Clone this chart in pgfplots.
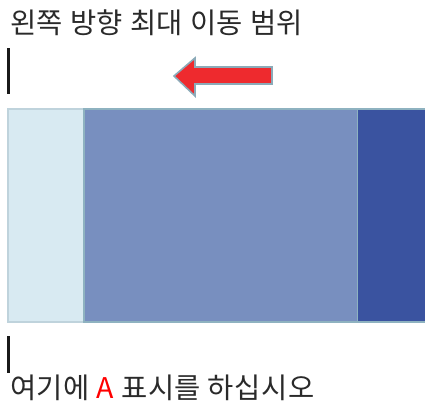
\documentclass[border=0pt]{standalone}
\usepackage{pgfplots}
\pgfplotsset{compat=1.18}
\usepackage{fontspec}
\setmainfont{Noto Sans CJK KR}[LetterSpace=2]
\definecolor{lightseg}{HTML}{D8EAF2}
\definecolor{lightedge}{HTML}{BFD3DC}
\definecolor{midseg}{HTML}{788FBF}
\definecolor{midedge}{HTML}{8EB2C0}
\definecolor{darkseg}{HTML}{3A53A0}
\definecolor{arrowred}{HTML}{EE2A2E}
\definecolor{arrowedge}{HTML}{8BAAB8}
\definecolor{txt}{HTML}{2A2A2A}
\begin{document}
\begin{tikzpicture}
\useasboundingbox (0,0) rectangle (425pt,407pt);
\begin{axis}[
  at={(0,0)}, anchor=south west,
  width=425pt, height=407pt, scale only axis,
  xmin=0, xmax=425, ymin=0, ymax=407, y dir=reverse,
  hide axis, clip=false,
]
% stacked bar segments
\addplot[fill=lightseg, draw=lightedge, line width=1.2pt] coordinates {(8,109) (84,109) (84,322) (8,322)} --cycle;
\addplot[fill=midseg, draw=midedge, line width=1.2pt] coordinates {(84,109) (358,109) (358,322) (84,322)} --cycle;
\addplot[fill=darkseg, draw=none] coordinates {(358,110) (425,110) (425,321) (358,321)} --cycle;
\addplot[draw=midedge, line width=1.2pt] coordinates {(358,109) (425,109)};
\addplot[draw=midedge, line width=1.2pt] coordinates {(358,322) (425,322)};
% arrow
\addplot[fill=arrowred, draw=arrowedge, line width=1.6pt] coordinates {(174,76) (195,58) (195,67) (272,67) (272,84) (195,84) (195,96)} --cycle;
% black markers
\addplot[draw=black!90, line width=2.6pt] coordinates {(8.5,48) (8.5,94)};
\addplot[draw=black!90, line width=2.6pt] coordinates {(8.5,336) (8.5,373)};
% texts
\node[anchor=base west, inner sep=0pt, text=txt, font=\fontsize{28.5}{30}\selectfont] at (axis cs:10,33) {왼쪽 방향 최대 이동 범위};
\node[anchor=base west, inner sep=0pt, text=txt, font=\fontsize{28.5}{30}\selectfont] at (axis cs:10,398) {여기에 \textcolor{red}{A} 표시를 하십시오};
\end{axis}
\end{tikzpicture}
\end{document}
